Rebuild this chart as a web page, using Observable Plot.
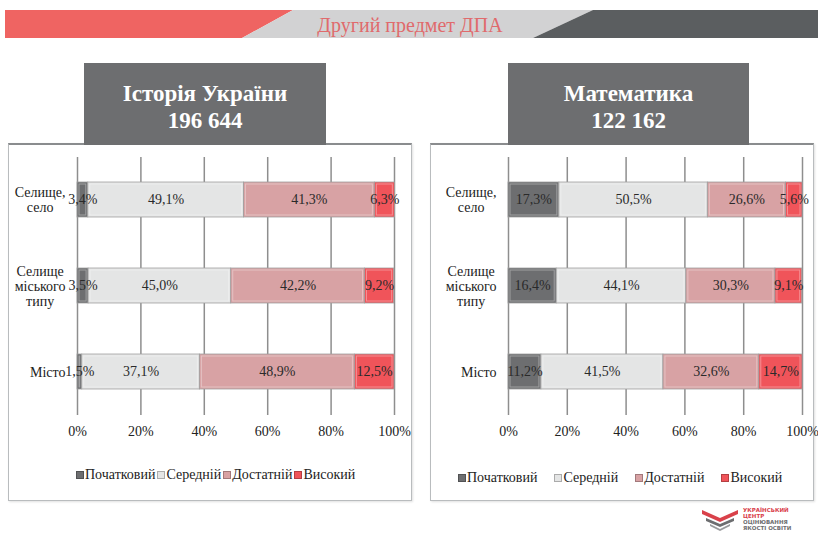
<!DOCTYPE html>
<html>
<head>
<meta charset="utf-8">
<script src="https://cdn.jsdelivr.net/npm/d3@7"></script>
<script src="https://cdn.jsdelivr.net/npm/@observablehq/plot@0.6"></script>
<style>
  html, body { margin: 0; padding: 0; background: #fff; }
  body { width: 818px; height: 539px; position: relative; overflow: hidden; font-family: 'Liberation Serif', 'Times New Roman', serif; }
  .abs { position: absolute; }
  .panel { position: absolute; border: 1px solid #b9bcbe; border-top: 2px solid #8a8c8e; box-shadow: 1px 1px 2px rgba(0,0,0,0.12); background: #fff; }
  .titlebox { position: absolute; box-sizing: border-box; padding-top: 5px; background: #6d6e70; color: #fff; font-weight: bold; font-size: 23px; line-height: 27px; text-align: center; display: flex; align-items: center; justify-content: center; font-family: 'Liberation Serif', 'Times New Roman', serif; }
  .legend { position: absolute; display: flex; align-items: center; font-size: 14px; color: #222; white-space: nowrap; font-family: 'Liberation Serif', 'Times New Roman', serif; }
  .legend .item { display: flex; align-items: center; }
  .legend .sw { width: 8px; height: 8px; margin-right: 1px; box-sizing: border-box; border: 1px solid rgba(0,0,0,0.25); }
  .logo { position: absolute; left: 700px; top: 506px; display: flex; align-items: center; font-family: 'DejaVu Sans', sans-serif; font-weight: bold; font-size: 5.5px; line-height: 6px; }
  svg text { font-family: 'Liberation Serif', 'Times New Roman', serif; }
</style>
</head>
<body>
<svg class="abs" style="left:0;top:0" width="818" height="50">
  <polygon points="5,10 293,10 242,38 5,38" fill="#ef6462"/>
  <polygon points="293,10 593,10 533,38 242,38" fill="#d2d2d3"/>
  <polygon points="593,10 818,10 818,38 533,38" fill="#5b5e60"/>
  <text x="410" y="25" text-anchor="middle" dominant-baseline="central" fill="#e06a6c" style="font-family:'Liberation Serif', serif" font-size="20">Другий предмет ДПА</text>
</svg>

<div class="panel" style="left:8px;top:143px;width:402px;height:355px;"></div>
<div class="panel" style="left:430px;top:143px;width:382px;height:355px;"></div>

<div id="t1" class="titlebox" style="left:84px;top:63px;width:242px;height:82px;"></div>
<div id="t2" class="titlebox" style="left:508px;top:63px;width:241px;height:82px;"></div>

<div id="c1" class="abs" style="left:0;top:150px;"></div>
<div id="c2" class="abs" style="left:420px;top:150px;"></div>

<div id="l1" class="legend" style="left:76px;top:467px;gap:2px;"></div>
<div id="l2" class="legend" style="left:458px;top:470px;gap:17px;"></div>

<div class="logo">
  <svg width="40" height="26" viewBox="0 0 40 26">
    <path d="M2 4 L20 12 L38 4 L38 8 L20 16 L2 8 Z" fill="#d9414a"/>
    <path d="M6 12 L20 18 L34 12 L34 15 L20 21 L6 15 Z" fill="#6d6e70"/>
    <path d="M10 18 L20 23 L30 18 L30 20 L20 25 L10 20 Z" fill="#9a9b9d"/>
  </svg>
  <div style="margin-left:3px">
    <div style="color:#d9414a">УКРАЇНСЬКИЙ</div>
    <div style="color:#d9414a">ЦЕНТР</div>
    <div style="color:#6d6e70">ОЦІНЮВАННЯ</div>
    <div style="color:#6d6e70">ЯКОСТІ ОСВІТИ</div>
  </div>
</div>

<script>
// ---- Data ----
const levels = ["Початковий", "Середній", "Достатній", "Високий"];
const levelColors = ["#6d6e70", "#e4e5e5", "#d8a2a4", "#f0545a"];
const places = ["Селище,\nсело", "Селище\nміського\nтипу", "Місто"];

const subject1 = "Історія України";
const total1 = "196 644";
const history = [
  [3.4, 49.1, 41.3, 6.3],   // Селище, село
  [3.5, 45.0, 42.2, 9.2],   // Селище міського типу
  [1.5, 37.1, 48.9, 12.5]   // Місто
];

const subject2 = "Математика";
const total2 = "122 162";
const math = [
  [17.3, 50.5, 26.6, 5.6],
  [16.4, 44.1, 30.3, 9.1],
  [11.2, 41.5, 32.6, 14.7]
];

const xTicks = [0, 20, 40, 60, 80, 100];

// ---- Helpers ----
const FONT = "'Liberation Serif', 'Times New Roman', serif";
function toRows(matrix) {
  const rows = [];
  levels.forEach((lv, j) => {
    places.forEach((p, i) => rows.push({place: p, level: lv, value: matrix[i][j]}));
  });
  return rows;
}
const fmt = v => v.toFixed(1).replace(".", ",") + "%";

const ctx = document.createElement("canvas").getContext("2d");
ctx.font = "14px 'Liberation Serif'";
const blockWidth = s => Math.max(...s.split("\n").map(l => ctx.measureText(l).width));

function chart(matrix, width, marginLeft) {
  const rows = toRows(matrix);
  const labelMarks = places.map(p => Plot.text([p], {
    x: () => 0, y: d => d, text: d => d,
    textAnchor: "middle", dx: -(12 + blockWidth(p) / 2),
    fontSize: 14, lineHeight: 1.08, fill: "#222"
  }));
  return Plot.plot({
    width, height: 300,
    marginLeft, marginRight: 16, marginTop: 7, marginBottom: 35,
    style: {fontFamily: FONT, fontSize: "14px", color: "#222", background: "transparent", overflow: "visible"},
    x: {domain: [0, 100], ticks: xTicks, tickFormat: d => d + "%", tickSize: 0, tickPadding: 11, label: null},
    y: {domain: places, paddingInner: 0.59, paddingOuter: 0.295, axis: null},
    color: {domain: levels, range: levelColors},
    marks: [
      Plot.ruleX(xTicks, {stroke: "#8e8e8e", strokeWidth: 1.5}),
      Plot.barX(rows, Plot.stackX({x: "value", y: "place", fill: "level", order: levels, stroke: "#a0a0a0", strokeWidth: 0.8})),
      Plot.barX(rows, Plot.stackX({x: "value", y: "place", z: "level", order: levels, fill: "none", stroke: "#ffffff", strokeOpacity: 0.35, strokeWidth: 1, inset: 2})),
      Plot.text(rows, Plot.stackX({x: "value", y: "place", z: "level", order: levels, text: d => fmt(d.value), fill: "#2a2a2a", fontSize: 14})),
      ...labelMarks
    ]
  });
}

document.getElementById("t1").innerHTML = subject1 + "<br>" + total1;
document.getElementById("t2").innerHTML = subject2 + "<br>" + total2;

document.getElementById("c1").append(chart(history, 410, 77));
document.getElementById("c2").append(chart(math, 398, 88));

function legend(el) {
  levels.forEach((lv, i) => {
    const item = document.createElement("div");
    item.className = "item";
    const sw = document.createElement("span");
    sw.className = "sw";
    sw.style.background = levelColors[i];
    const t = document.createElement("span");
    t.textContent = lv;
    item.append(sw, t);
    el.append(item);
  });
}
legend(document.getElementById("l1"));
legend(document.getElementById("l2"));
</script>
</body>
</html>
